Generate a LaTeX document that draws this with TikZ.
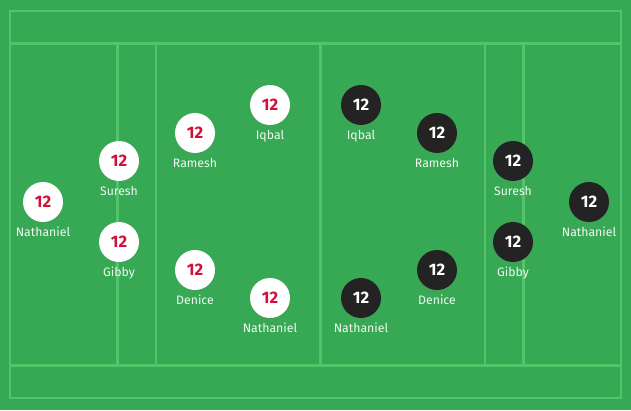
\documentclass[tikz,border=0pt]{standalone}
\usepackage{fontspec}
\setmainfont{Fira Sans}
\usetikzlibrary{positioning,shadows}

\definecolor{pitch}{RGB}{55,168,83}
\definecolor{pitchline}{RGB}{82,196,106}
\definecolor{homered}{RGB}{208,16,58}
\definecolor{awaydark}{RGB}{35,35,35}
\definecolor{lbltext}{RGB}{240,250,240}

\tikzset{every picture/.style={line width=0.75pt}}
\tikzset{
	player/.style={circle, minimum size=30pt, inner sep=0pt, font=\bfseries\fontsize{12.5}{12.5}\selectfont,
		drop shadow={opacity=0.18, shadow xshift=0pt, shadow yshift=-0.8pt}},
	home/.style={player, fill=white, text=homered},
	away/.style={player, fill=awaydark, text=white},
	lbl/.style={text=lbltext, font=\fontsize{9.2}{9.2}\selectfont, inner sep=0pt},
	fieldline/.style={draw=pitchline, line width=1.6pt}
}

\begin{document}
\begin{tikzpicture}[x=0.75pt,y=0.75pt,yscale=-1,xscale=1]
	%set diagram size to 631 x 410
	\useasboundingbox (0,0) rectangle (631,410);
	\fill[pitch] (0,0) rectangle (631,410);

	%Shape: pitch lines
	\draw[fieldline] (10,11) rectangle (621,398);
	\draw[fieldline] (10,43.5) -- (621,43.5);
	\draw[fieldline] (10,365.5) -- (621,365.5);
	\draw[fieldline] (117.5,43.5) -- (117.5,365.5);
	\draw[fieldline] (156,43.5) -- (156,365.5);
	\draw[fieldline] (320.5,43.5) -- (320.5,365.5);
	\draw[fieldline] (485,43.5) -- (485,365.5);
	\draw[fieldline] (523.5,43.5) -- (523.5,365.5);

	% Home side
	\node[home] (hNathanielA) at (43,202) {12};
	\node[lbl, below=3pt of hNathanielA] (hNathanielAl) {Nathaniel};
	\node[home] (hSuresh) at (119,161) {12};
	\node[lbl, below=3pt of hSuresh] (hSureshl) {Suresh};
	\node[home] (hGibby) at (119,242) {12};
	\node[lbl, below=3pt of hGibby] (hGibbyl) {Gibby};
	\node[home] (hRamesh) at (195,133) {12};
	\node[lbl, below=3pt of hRamesh] (hRameshl) {Ramesh};
	\node[home] (hDenice) at (195,270) {12};
	\node[lbl, below=3pt of hDenice] (hDenicel) {Denice};
	\node[home] (hIqbal) at (270,105) {12};
	\node[lbl, below=3pt of hIqbal] (hIqball) {Iqbal};
	\node[home] (hNathanielB) at (270,298) {12};
	\node[lbl, below=3pt of hNathanielB] (hNathanielBl) {Nathaniel};

	% Away side
	\node[away] (aIqbal) at (361,105) {12};
	\node[lbl, below=3pt of aIqbal] (aIqball) {Iqbal};
	\node[away] (aNathanielB) at (361,298) {12};
	\node[lbl, below=3pt of aNathanielB] (aNathanielBl) {Nathaniel};
	\node[away] (aRamesh) at (437,133) {12};
	\node[lbl, below=3pt of aRamesh] (aRameshl) {Ramesh};
	\node[away] (aDenice) at (437,270) {12};
	\node[lbl, below=3pt of aDenice] (aDenicel) {Denice};
	\node[away] (aSuresh) at (513,161) {12};
	\node[lbl, below=3pt of aSuresh] (aSureshl) {Suresh};
	\node[away] (aGibby) at (513,242) {12};
	\node[lbl, below=3pt of aGibby] (aGibbyl) {Gibby};
	\node[away] (aNathanielA) at (589,202) {12};
	\node[lbl, below=3pt of aNathanielA] (aNathanielAl) {Nathaniel};

\end{tikzpicture}
\end{document}
